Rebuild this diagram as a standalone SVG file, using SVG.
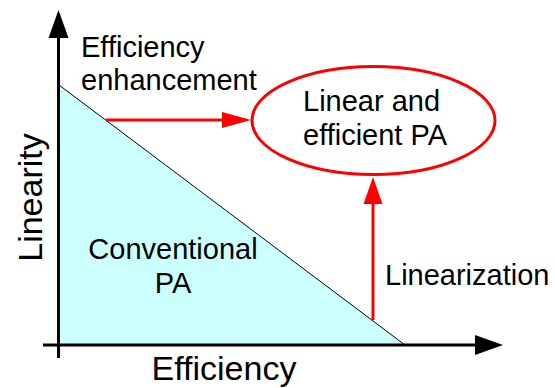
<svg xmlns="http://www.w3.org/2000/svg" width="555" height="388" viewBox="0 0 555 388">
<style>
text{font-family:"Liberation Sans",Arial,sans-serif;fill:#000}
.lbl{font-size:29px}
.ax{font-size:34px}
.axis{stroke:#000;stroke-width:3;fill:none}
.red{stroke:#ff0000;stroke-width:3;fill:none}
</style>
<rect width="555" height="388" fill="#fff"/>
<g id="region">
<polygon points="59,85 405,345 59,345" fill="#ccffff" stroke="#000" stroke-width="1"/>
</g>
<g id="axes">
<line class="axis" x1="58.5" y1="358" x2="58.5" y2="36"/>
<polygon points="58.5,10 48.5,38 68.5,38" fill="#000"/>
<line class="axis" x1="43" y1="345" x2="477" y2="345"/>
<polygon points="503,345 475,335 475,355" fill="#000"/>
<text class="ax" x="224" y="380" text-anchor="middle">Efficiency</text>
<text class="ax" transform="translate(42,197.5) rotate(-90)" text-anchor="middle">Linearity</text>
</g>
<g id="goal">
<ellipse class="red" cx="373.5" cy="120.5" rx="121.5" ry="54"/>
<text class="lbl" x="303" y="111">Linear and</text>
<text class="lbl" x="303" y="145">efficient PA</text>
</g>
<g id="conventional">
<text class="lbl" x="173" y="259" text-anchor="middle">Conventional</text>
<text class="lbl" x="173" y="293" text-anchor="middle">PA</text>
</g>
<g id="connectors">
<line class="red" x1="106" y1="120" x2="224" y2="120"/>
<polygon points="251,120 222,112 222,128" fill="#ff0000"/>
<line class="red" x1="373" y1="320" x2="373" y2="202"/>
<polygon points="373,177 363.5,204 382.5,204" fill="#ff0000"/>
</g>
<g id="labels">
<text class="lbl" x="81" y="57">Efficiency</text>
<text class="lbl" x="81" y="90">enhancement</text>
<text class="lbl" x="385" y="285">Linearization</text>
</g>
</svg>
